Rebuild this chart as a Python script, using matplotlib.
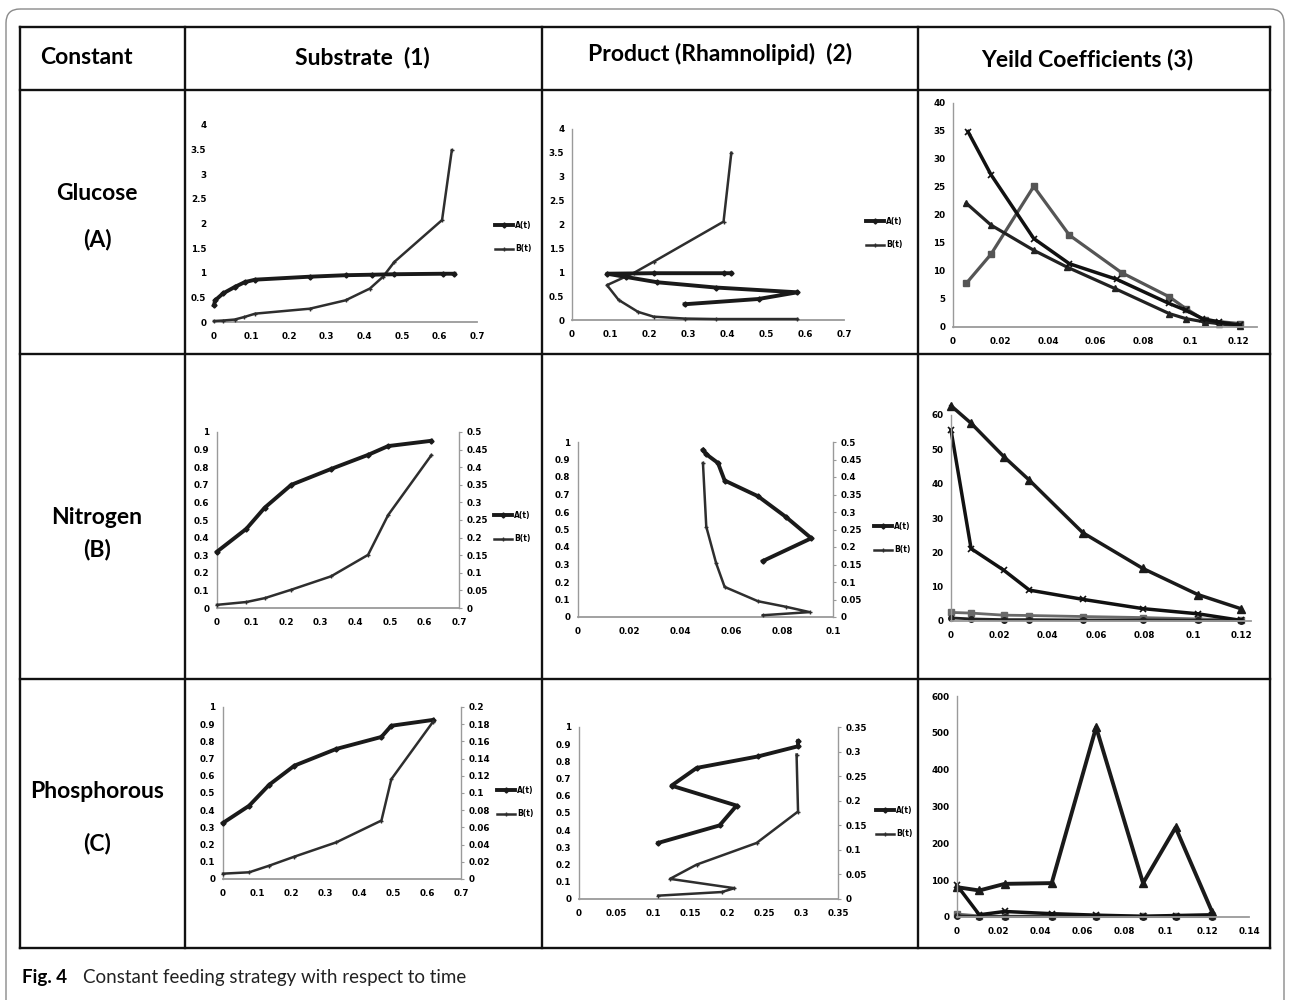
import matplotlib
matplotlib.use("Agg")
import matplotlib.pyplot as plt
from matplotlib.patches import FancyBboxPatch
from matplotlib.lines import Line2D

# ---------------- text ----------------
col_headers = ["Constant", "Substrate  (1)", "Product (Rhamnolipid)  (2)", "Yeild Coefficients (3)"]
row_names = ["Glucose", "Nitrogen", "Phosphorous"]
row_codes = ["(A)", "(B)", "(C)"]
caption_bold = "Fig. 4"
caption_text = "Constant feeding strategy with respect to time"
legend_labels = ["A(t)", "B(t)"]

# ---------------- data ----------------
# Glucose / substrate (A1)
a1_a_x = [0, 0.003, 0.024, 0.055, 0.082, 0.11, 0.255, 0.35, 0.42, 0.48, 0.61, 0.64]
a1_a_y = [0.34, 0.44, 0.58, 0.71, 0.81, 0.86, 0.92, 0.95, 0.96, 0.97, 0.98, 0.98]
a1_b_x = [0, 0.024, 0.055, 0.08, 0.11, 0.255, 0.35, 0.415, 0.45, 0.48, 0.607, 0.633]
a1_b_y = [0.02, 0.03, 0.05, 0.10, 0.17, 0.27, 0.44, 0.68, 0.92, 1.22, 2.07, 3.49]
# Glucose / product (A2)
a2_a_x = [0.29, 0.48, 0.58, 0.37, 0.22, 0.14, 0.09, 0.21, 0.39, 0.41]
a2_a_y = [0.33, 0.44, 0.58, 0.68, 0.79, 0.90, 0.97, 0.98, 0.98, 0.98]
a2_b_x = [0.58, 0.37, 0.29, 0.21, 0.17, 0.12, 0.09, 0.16, 0.21, 0.39, 0.41]
a2_b_y = [0.02, 0.02, 0.03, 0.07, 0.17, 0.42, 0.73, 0.99, 1.22, 2.06, 3.50]
# Glucose / yield (A3)
a3_x_x = [0.0063, 0.016, 0.034, 0.049, 0.069, 0.091, 0.098, 0.105, 0.112, 0.121]
a3_x_y = [34.9, 27.2, 15.8, 11.3, 8.5, 4.2, 3.0, 1.5, 0.9, 0.3]
a3_t_x = [0.0056, 0.016, 0.034, 0.048, 0.068, 0.091, 0.098, 0.106, 0.112, 0.121]
a3_t_y = [22.1, 18.2, 13.7, 10.7, 6.9, 2.4, 1.5, 0.9, 0.6, 0.1]
a3_s_x = [0.0056, 0.016, 0.034, 0.049, 0.071, 0.091, 0.098, 0.106, 0.121]
a3_s_y = [7.8, 13.0, 25.1, 16.4, 9.7, 5.4, 3.3, 1.2, 0.6]

# Nitrogen / substrate (B1)
b1_x = [0, 0.085, 0.138, 0.215, 0.33, 0.437, 0.495, 0.62]
b1_a_y = [0.32, 0.45, 0.57, 0.70, 0.79, 0.87, 0.92, 0.95]
b1_b_y = [0.009, 0.017, 0.028, 0.052, 0.090, 0.151, 0.264, 0.434]
# Nitrogen / product (B2)
b2_a_x = [0.0725, 0.0915, 0.0817, 0.0706, 0.0575, 0.0549, 0.0503, 0.049]
b2_a_y = [0.32, 0.45, 0.57, 0.69, 0.78, 0.88, 0.93, 0.956]
b2_b_x = [0.0725, 0.0908, 0.0817, 0.0706, 0.0575, 0.0542, 0.0503, 0.049]
b2_b_y = [0.005, 0.014, 0.029, 0.045, 0.086, 0.153, 0.258, 0.44]
# Nitrogen / yield (B3)
b3_x = [0, 0.0083, 0.0218, 0.0324, 0.0545, 0.0793, 0.102, 0.1197]
b3_t_y = [62.7, 57.6, 47.9, 41.0, 25.7, 15.3, 7.7, 3.6]
b3_x_y = [55.6, 21.1, 14.8, 9.0, 6.3, 3.6, 2.1, 0.2]
b3_s_y = [2.5, 2.3, 1.7, 1.6, 1.3, 1.0, 0.6, 0.3]
b3_c_y = [0.9, 0.6, 0.4, 0.4, 0.3, 0.3, 0.2, 0.1]

# Phosphorous / substrate (C1)
c1_x = [0, 0.077, 0.136, 0.21, 0.333, 0.466, 0.495, 0.618]
c1_a_y = [0.326, 0.426, 0.548, 0.659, 0.756, 0.826, 0.891, 0.925]
c1_b_y = [0.0062, 0.0078, 0.0155, 0.026, 0.0426, 0.068, 0.116, 0.183]
# Phosphorous / product (C2)
c2_a_x = [0.107, 0.190, 0.213, 0.125, 0.159, 0.242, 0.296, 0.296]
c2_a_y = [0.326, 0.428, 0.543, 0.659, 0.762, 0.829, 0.888, 0.917]
c2_b_x = [0.107, 0.193, 0.210, 0.123, 0.159, 0.240, 0.296, 0.294]
c2_b_y = [0.0068, 0.0142, 0.022, 0.041, 0.070, 0.114, 0.178, 0.294]
# Phosphorous / yield (C3)
c3_x = [0, 0.0107, 0.0229, 0.0454, 0.0667, 0.0892, 0.1048, 0.1223]
c3_t_y = [81, 72, 90, 92, 515, 92, 243, 14]
c3_x_y = [86, 6, 15, 9, 5, 2, 4, 6]
c3_s_y = [8, 3, 2, 3, 3, 2, 3, 4]
c3_c_y = [3, 1, 1, 1, 1, 1, 1, 1]

# ticks
sub_xticks = [0, 0.1, 0.2, 0.3, 0.4, 0.5, 0.6, 0.7]
a_yticks = [0, 0.5, 1, 1.5, 2, 2.5, 3, 3.5, 4]
unit_yticks = [0, 0.1, 0.2, 0.3, 0.4, 0.5, 0.6, 0.7, 0.8, 0.9, 1]
b_right_ticks = [0, 0.05, 0.1, 0.15, 0.2, 0.25, 0.3, 0.35, 0.4, 0.45, 0.5]
c1_right_ticks = [0, 0.02, 0.04, 0.06, 0.08, 0.1, 0.12, 0.14, 0.16, 0.18, 0.2]
b2_xticks = [0, 0.02, 0.04, 0.06, 0.08, 0.1]
c2_xticks = [0, 0.05, 0.1, 0.15, 0.2, 0.25, 0.3, 0.35]
c2_right_ticks = [0, 0.05, 0.1, 0.15, 0.2, 0.25, 0.3, 0.35]
y_xticks = [0, 0.02, 0.04, 0.06, 0.08, 0.1, 0.12]
c3_xticks = [0, 0.02, 0.04, 0.06, 0.08, 0.1, 0.12, 0.14]
a3_yticks = [0, 5, 10, 15, 20, 25, 30, 35, 40]
b3_yticks = [0, 10, 20, 30, 40, 50, 60]
c3_yticks = [0, 100, 200, 300, 400, 500, 600]

# ---------------- figure ----------------
W, H = 1290, 1000
fig = plt.figure(figsize=(12.9, 10), dpi=100)
fig.patch.set_facecolor("white")

bg = fig.add_axes([0, 0, 1, 1])
bg.set_xlim(0, W)
bg.set_ylim(H, 0)
bg.axis("off")

HF = "Lato"
HFS = 16.5
# rounded outer frame
bg.add_patch(FancyBboxPatch((6, 9), 1278, 1010, boxstyle="round,pad=0,rounding_size=14",
                            fc="none", ec="#8a8a8a", lw=1.0))
# table grid
xs = [20, 185, 542, 918, 1270]
ys = [27, 90, 354, 679, 948]
for x in xs:
    bg.plot([x, x], [ys[0], ys[-1]], color="#111111", lw=1.7, solid_capstyle="projecting")
for y in ys:
    bg.plot([xs[0], xs[-1]], [y, y], color="#111111", lw=1.7, solid_capstyle="projecting")

bg.text(40, 58, col_headers[0], ha="left", va="center", fontsize=HFS, fontweight="bold", family=HF)
bg.text(362, 58, col_headers[1], ha="center", va="center", fontsize=HFS, fontweight="bold", family=HF)
bg.text(720, 54, col_headers[2], ha="center", va="center", fontsize=HFS, fontweight="bold", family=HF)
bg.text(1087, 60, col_headers[3], ha="center", va="center", fontsize=HFS, fontweight="bold", family=HF)
for name, code, yn, yc in zip(row_names, row_codes, [193, 517, 792], [240, 549, 843]):
    bg.text(97, yn, name, ha="center", va="center", fontsize=HFS, fontweight="bold", family=HF)
    bg.text(97, yc, code, ha="center", va="center", fontsize=HFS, fontweight="bold", family=HF)

bg.text(22, 978, caption_bold, ha="left", va="center", fontsize=13.5, fontweight="bold", family=HF)
bg.text(83, 978, caption_text, ha="left", va="center", fontsize=13.5, family=HF, color="#222222")


def rect(l, t, r, b):
    return [l / W, 1 - b / H, (r - l) / W, (b - t) / H]


TICK_FS = 6.3
AX_GREY = "#9a9a9a"


def fmt(v):
    return f"{v:g}"


def setup(ax, xlim, ylim, xticks, yticks, left=True):
    ax.set_xlim(*xlim)
    ax.set_ylim(*ylim)
    ax.patch.set_alpha(0)
    for s in ["top", "right"]:
        ax.spines[s].set_visible(False)
    ax.spines["bottom"].set_color(AX_GREY)
    ax.spines["bottom"].set_linewidth(1.3)
    ax.spines["left"].set_color(AX_GREY)
    ax.spines["left"].set_linewidth(1.0)
    ax.spines["left"].set_visible(left)
    ax.set_xticks(xticks)
    ax.set_xticklabels([fmt(v) for v in xticks])
    ax.set_yticks(yticks)
    ax.set_yticklabels([fmt(v) for v in yticks])
    ax.tick_params(axis="x", length=0, pad=7.5, labelsize=TICK_FS)
    ax.tick_params(axis="y", length=0, pad=5.5, labelsize=TICK_FS)
    for lab in ax.get_xticklabels() + ax.get_yticklabels():
        lab.set_fontweight("bold")


def setup_right(ax2, ylim, ticks):
    ax2.set_ylim(*ylim)
    for s in ["top", "left", "bottom"]:
        ax2.spines[s].set_visible(False)
    ax2.spines["right"].set_color(AX_GREY)
    ax2.spines["right"].set_linewidth(1.0)
    ax2.set_yticks(ticks)
    ax2.set_yticklabels([fmt(v) for v in ticks])
    ax2.tick_params(axis="y", length=2.5, width=0.8, color=AX_GREY, pad=3, labelsize=TICK_FS)
    for lab in ax2.get_yticklabels():
        lab.set_fontweight("bold")


A_STYLE = dict(color="#1a1a1a", lw=2.8, marker="D", ms=2.6, clip_on=False, zorder=5)
B_STYLE = dict(color="#2e2e2e", lw=1.8, marker="+", ms=2.5, clip_on=False, zorder=4)


def legend(ax, x, y):
    h = [Line2D([], [], **{k: v for k, v in A_STYLE.items() if k not in ("clip_on", "zorder")}),
         Line2D([], [], **{k: v for k, v in B_STYLE.items() if k not in ("clip_on", "zorder")})]
    leg = ax.legend(h, legend_labels, loc="center left", bbox_to_anchor=(x, y),
                    bbox_transform=bg.transData, frameon=False, fontsize=5.5,
                    handlelength=2.4, handletextpad=0.2, labelspacing=1.9, borderpad=0,
                    borderaxespad=0)
    for t in leg.get_texts():
        t.set_fontweight("bold")


# ---- A1
ax = fig.add_axes(rect(214, 125, 477, 322))
setup(ax, (0, 0.7), (0, 4), sub_xticks, a_yticks, left=False)
ax.plot(a1_b_x, a1_b_y, **B_STYLE)
ax.plot(a1_a_x, a1_a_y, **A_STYLE)
legend(ax, 495, 237)

# ---- A2
ax = fig.add_axes(rect(572, 129, 844, 320))
setup(ax, (0, 0.7), (0, 4), sub_xticks, a_yticks)
ax.plot(a2_b_x, a2_b_y, **B_STYLE)
ax.plot(a2_a_x, a2_a_y, **A_STYLE)
legend(ax, 866, 233)

# ---- A3
ax = fig.add_axes(rect(953, 103, 1257, 327))
setup(ax, (0, 0.128), (0, 40), y_xticks, a3_yticks)
ax.plot(a3_s_x, a3_s_y, color="#555555", lw=2.3, marker="s", ms=5, clip_on=False)
ax.plot(a3_t_x, a3_t_y, color="#222222", lw=2.3, marker="^", ms=5, clip_on=False)
ax.plot(a3_x_x, a3_x_y, color="#111111", lw=2.5, marker="x", ms=5, mew=1.2, clip_on=False)

# ---- B1
ax = fig.add_axes(rect(217, 432, 459, 608))
setup(ax, (0, 0.7), (0, 1), sub_xticks, unit_yticks)
ax.plot(b1_x, b1_a_y, **A_STYLE)
ax2 = ax.twinx()
setup_right(ax2, (0, 0.5), b_right_ticks)
ax2.plot(b1_x, b1_b_y, **B_STYLE)
legend(ax2, 494, 527)

# ---- B2
ax = fig.add_axes(rect(578, 442, 833, 617))
setup(ax, (0, 0.1), (0, 1), b2_xticks, unit_yticks)
ax.plot(b2_a_x, b2_a_y, **A_STYLE)
ax2 = ax.twinx()
setup_right(ax2, (0, 0.5), b_right_ticks)
ax2.plot(b2_b_x, b2_b_y, **B_STYLE)
legend(ax2, 874, 538)

# ---- B3
ax = fig.add_axes(rect(951, 415, 1251, 621))
setup(ax, (0, 0.124), (0, 60), y_xticks, b3_yticks)
ax.plot(b3_x, b3_s_y, color="#6a6a6a", lw=2.0, marker="s", ms=5, clip_on=False)
ax.plot(b3_x, b3_c_y, color="#222222", lw=2.0, marker="o", ms=4, clip_on=False)
ax.plot(b3_x, b3_x_y, color="#111111", lw=2.5, marker="x", ms=5, mew=1.2, clip_on=False)
ax.plot(b3_x, b3_t_y, color="#1a1a1a", lw=2.5, marker="^", ms=5.5, clip_on=False)

# ---- C1
ax = fig.add_axes(rect(223, 707, 461, 879))
setup(ax, (0, 0.7), (0, 1), sub_xticks, unit_yticks)
ax.plot(c1_x, c1_a_y, **A_STYLE)
ax2 = ax.twinx()
setup_right(ax2, (0, 0.2), c1_right_ticks)
ax2.plot(c1_x, c1_b_y, **B_STYLE)
legend(ax2, 497, 802)

# ---- C2
ax = fig.add_axes(rect(579, 727, 838, 899))
setup(ax, (0, 0.35), (0, 1), c2_xticks, unit_yticks)
ax.plot(c2_a_x, c2_a_y, **A_STYLE)
ax2 = ax.twinx()
setup_right(ax2, (0, 0.35), c2_right_ticks)
ax2.plot(c2_b_x, c2_b_y, **B_STYLE)
legend(ax2, 876, 822)

# ---- C3
ax = fig.add_axes(rect(957, 696, 1249, 917))
setup(ax, (0, 0.138), (0, 600), c3_xticks, c3_yticks)
ax.plot(c3_x, c3_s_y, color="#6a6a6a", lw=2.0, marker="s", ms=5, clip_on=False)
ax.plot(c3_x, c3_c_y, color="#222222", lw=2.0, marker="o", ms=4, clip_on=False)
ax.plot(c3_x, c3_x_y, color="#111111", lw=2.5, marker="x", ms=5, mew=1.2, clip_on=False)
ax.plot(c3_x, c3_t_y, color="#1a1a1a", lw=2.8, marker="^", ms=5.5, clip_on=False)

fig.savefig("out.png", dpi=100, facecolor="white")
